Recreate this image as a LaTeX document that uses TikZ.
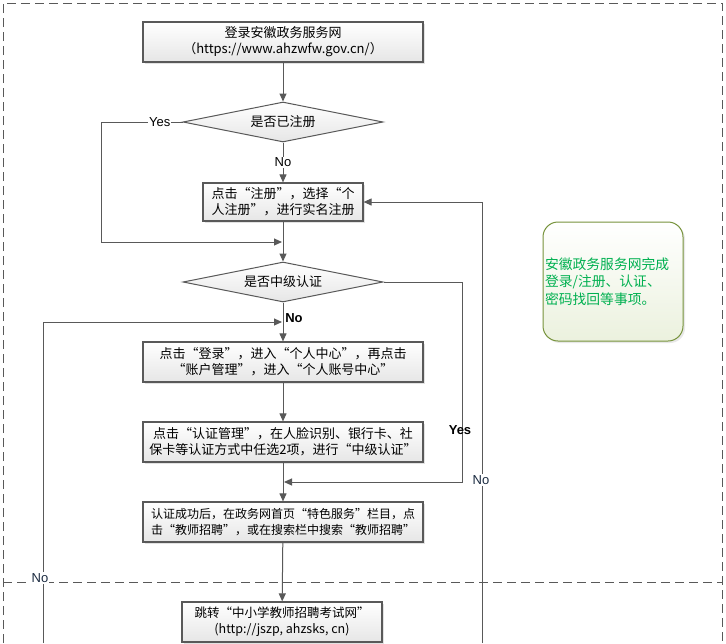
\documentclass[tikz,border=0pt]{standalone}
\usepackage{fontspec}
\setmainfont{Noto Sans CJK SC}
\newfontfamily\lat{Liberation Sans}
\usetikzlibrary{arrows.meta,shapes.geometric,shadows}
\definecolor{lncol}{HTML}{595959}
\definecolor{boxbot}{HTML}{E6E6E6}
\definecolor{noteborder}{HTML}{77933C}
\definecolor{notebot}{HTML}{EBF1DE}
\definecolor{notetext}{HTML}{00B050}
\definecolor{lbldark}{HTML}{1A2A40}
\tikzset{
  procbox/.style={draw=lncol, line width=1.2pt, top color=white, bottom color=boxbot,
    drop shadow={shadow xshift=2pt, shadow yshift=-2pt, fill=black!25, opacity=.45},
    minimum width=280pt, minimum height=40pt, inner sep=2pt, align=center,
    font=\fontsize{13}{16}\selectfont},
  decision/.style={diamond, aspect=5, draw=lncol, line width=1pt, top color=white, bottom color=boxbot,
    minimum width=200pt, minimum height=40pt, inner sep=0pt, font=\fontsize{13}{16}\selectfont},
  conn/.style={draw=lncol, line width=1pt},
  arr/.style={conn, -{Triangle[length=8pt,width=7pt]}},
  frameline/.style={draw=lncol, line width=1pt, dash pattern=on 9pt off 5pt},
  lbl/.style={font=\lat\fontsize{13}{15}\selectfont, inner sep=1pt},
  blbl/.style={font=\lat\bfseries\fontsize{13}{15}\selectfont, inner sep=1pt},
  notebox/.style={draw=noteborder, line width=1pt, rounded corners=15pt, top color=white, bottom color=notebot,
    drop shadow={shadow xshift=2pt, shadow yshift=-2pt, fill=black!25, opacity=.35},
    minimum width=140pt, minimum height=119pt, text width=136pt, inner xsep=2pt, align=left,
    text=notetext, font=\fontsize{13.8}{17.5}\selectfont}
}
\begin{document}
\begin{tikzpicture}[x=1pt,y=-1pt]
\useasboundingbox (0,0) rectangle (726,643);
\clip (0,0) rectangle (726,643);
\fill[white] (0,0) rectangle (726,643);

% frame
\coordinate (fa) at (3,643);
\coordinate (fb) at (3,3);
\coordinate (fc) at (722,3);
\coordinate (fd) at (722,643);
\coordinate (fe) at (3,582);
\coordinate (ff) at (722,582);
\draw[frameline] (fa) -- (fb) -- (fc) -- (fd);
\draw[frameline] (fe) -- (ff);

% nodes
\node[procbox] (b1) at (283,42) {登录安徽政务服务网\\（https://www.ahzwfw.gov.cn/）};
\node[decision] (d1) at (283,122) {是否已注册};
\node[procbox, minimum width=160pt, minimum height=38pt, align=left] (b2) at (283,202) {点击“注册”，选择“个\\人注册”，进行实名注册};
\node[decision] (d2) at (283,282) {是否中级认证};
\node[procbox] (b3) at (283,362) {点击“登录”，进入“个人中心”，再点击\\“账户管理”，进入“个人账号中心”};
\node[procbox] (b4) at (283,442) {点击“认证管理”，在人脸识别、银行卡、社\\保卡等认证方式中任选2项，进行“中级认证”};
\node[procbox, font=\fontsize{12}{16}\selectfont] (b5) at (283,522) {认证成功后，在政务网首页“特色服务”栏目，点\\击“教师招聘”，或在搜索栏中搜索“教师招聘”};
\node[procbox, minimum width=200pt, font=\fontsize{12.5}{16}\selectfont] (b6) at (282,622) {跳转“中小学教师招聘考试网”\\(http://jszp, ahzsks, cn)};
\node[notebox] (note) at (613,281.5) {安徽政务服务网完成\\登录/注册、认证、\\密码找回等事项。};

% helper coordinates
\coordinate (c1) at (101,122);
\coordinate (c2) at (101,242);
\coordinate (m1) at (282,242);
\coordinate (c3) at (462,282);
\coordinate (c4) at (462,482);
\coordinate (m2) at (284,482);
\coordinate (c5) at (43,643);
\coordinate (c6) at (43,322);
\coordinate (m3) at (282,322);
\coordinate (c7) at (482,643);
\coordinate (c8) at (482,202);

% connectors
\draw[arr] (b1) -- (d1);
\draw[arr] (d1) -- node[lbl, fill=white] (no1) {No} (b2);
\draw[arr] (d1.west) -- node[pos=.28, lbl, fill=white] (yes1) {Yes} (c1) -- (c2) -- (m1);
\draw[arr] (b2) -- (d2);
\draw[arr] (d2) -- (b3);
\draw[arr] (d2.east) -- (c3) -- (c4) -- (m2);
\draw[arr] (c5) -- (c6) -- (m3);
\draw[arr] (c7) -- (c8) -- (b2.east);
\draw[arr] (b3) -- (b4);
\draw[arr] (b4) -- (b5);
\draw[arr] (b5) -- (b6);

% labels
\node[blbl] (no2) at (294,318) {No};
\node[blbl] (yes2) at (460,430) {Yes};
\node[lbl, fill=white, text=lbldark] (no3) at (40,578) {No};
\node[lbl, fill=white, text=lbldark] (no4) at (481,480) {No};
\end{tikzpicture}
\end{document}
